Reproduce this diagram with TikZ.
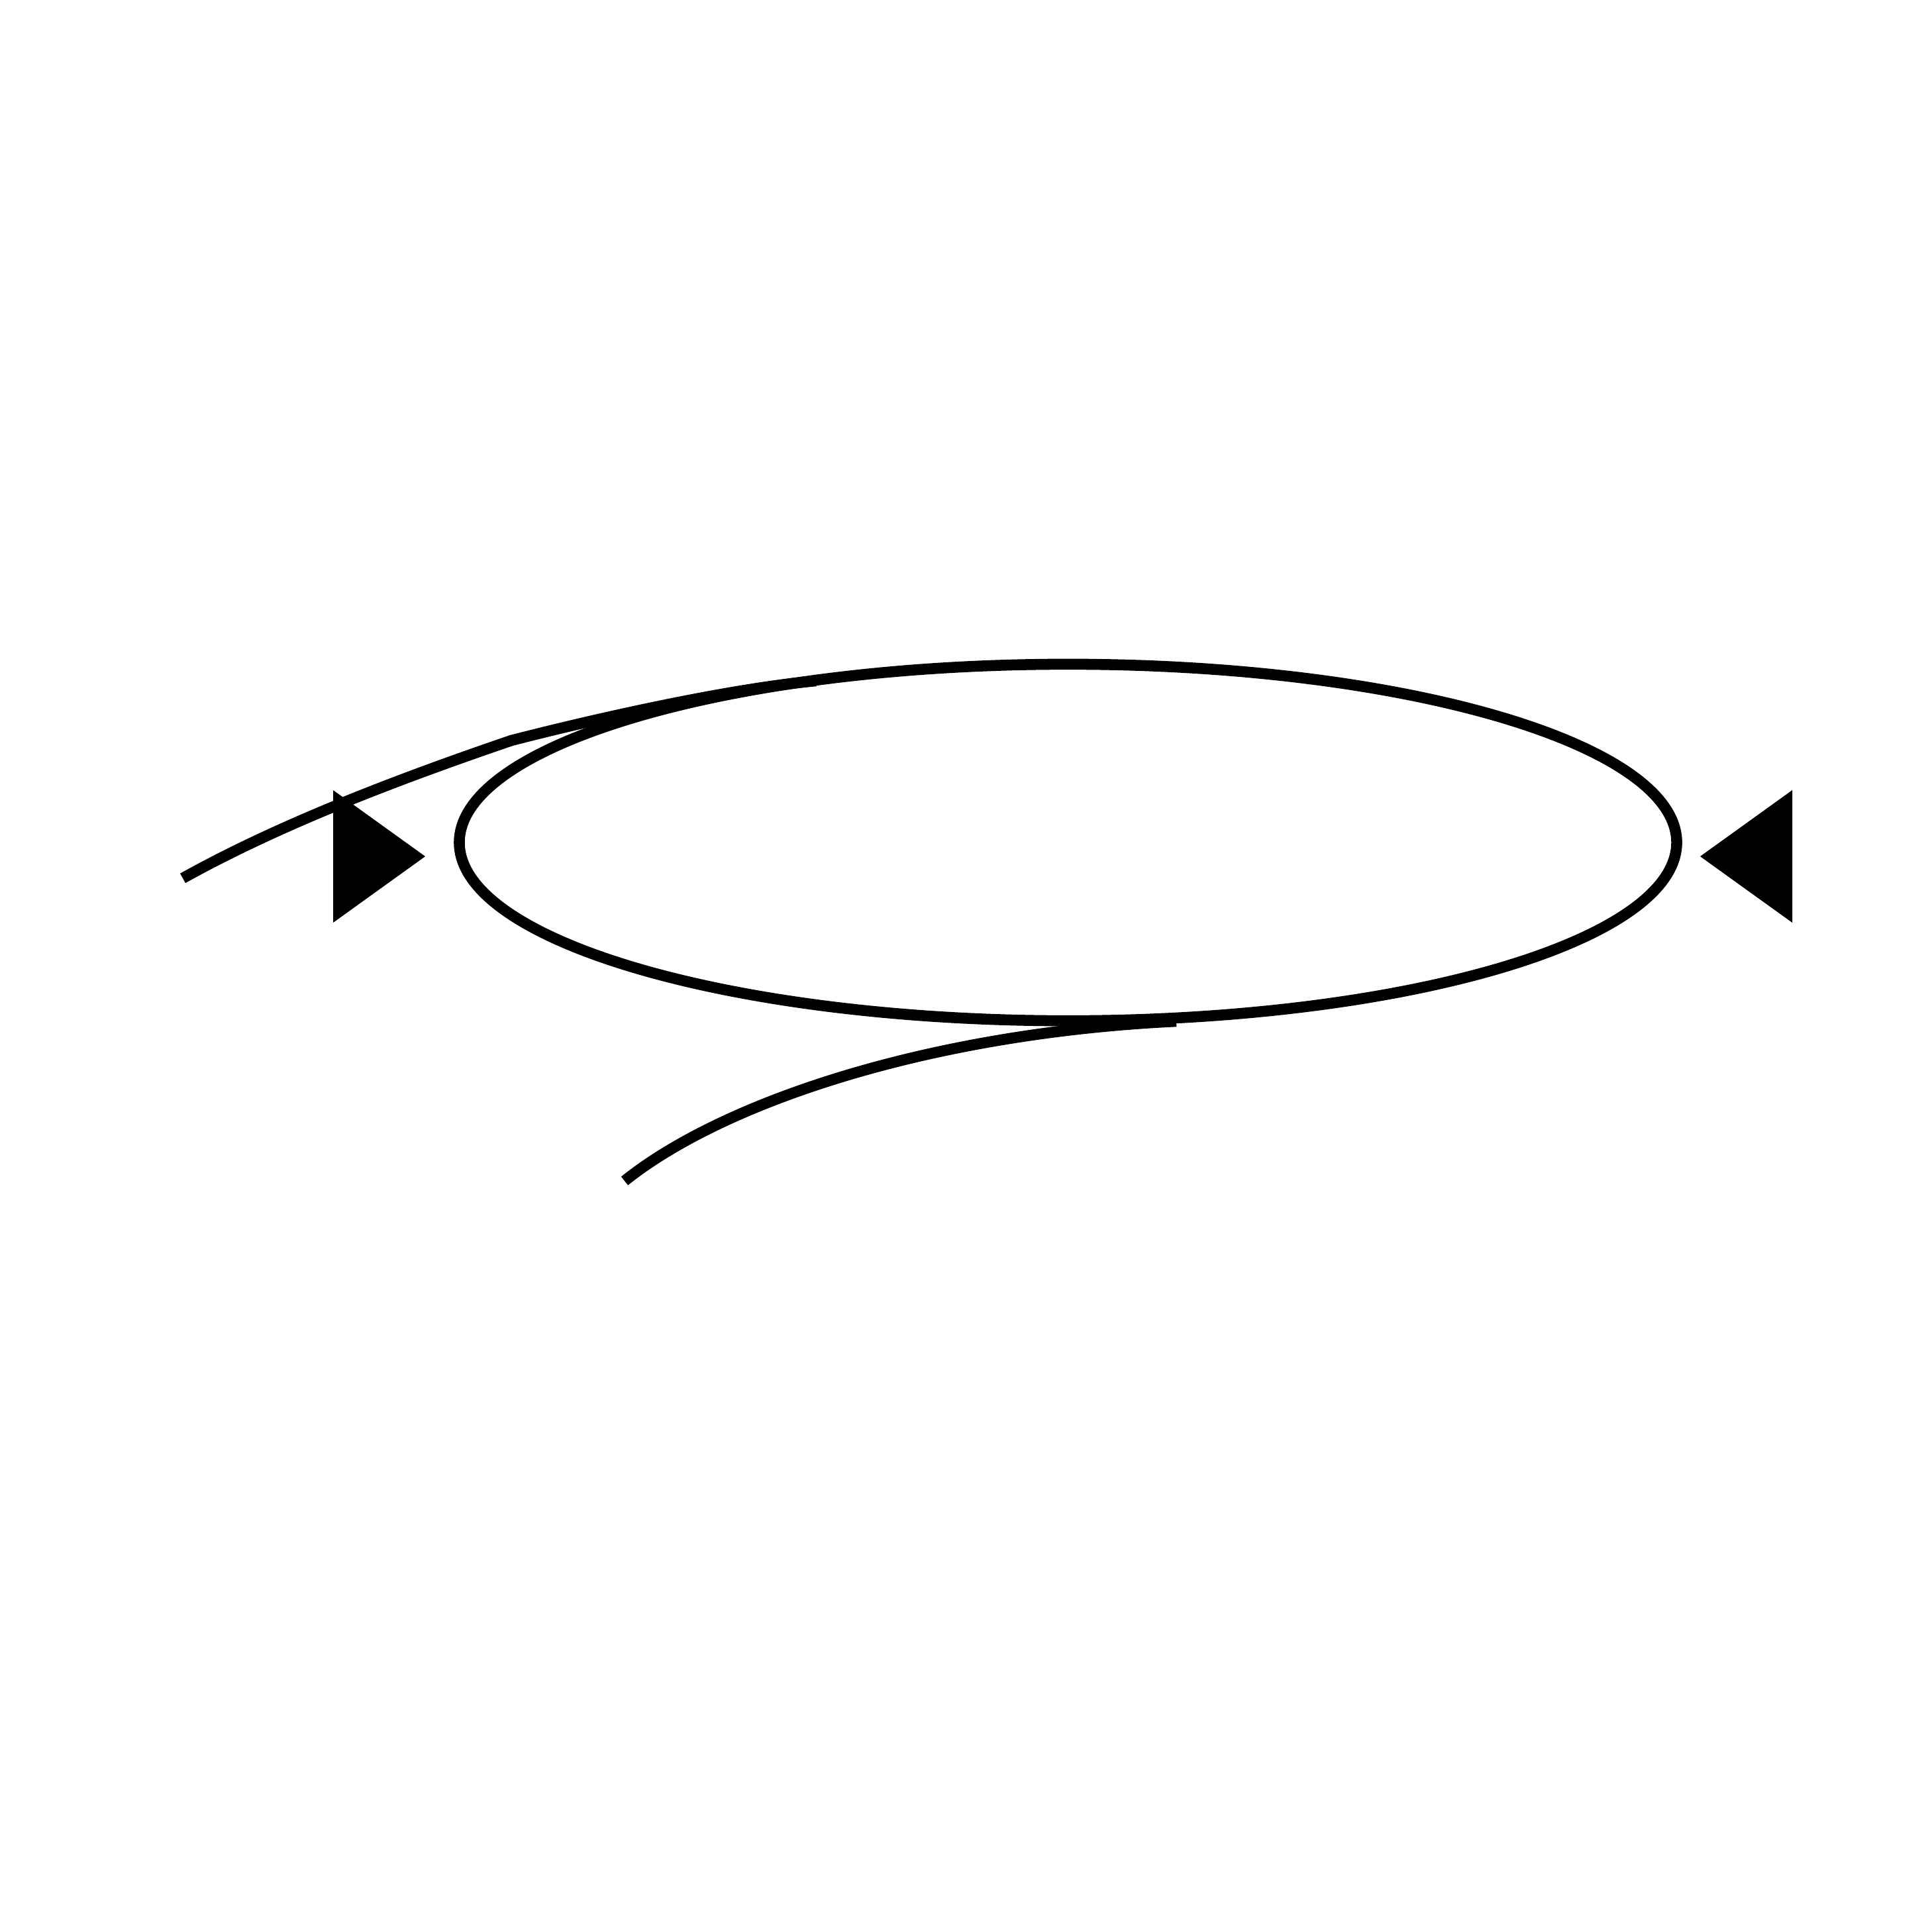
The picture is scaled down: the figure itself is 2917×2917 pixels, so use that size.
\documentclass[tikz,border=0pt]{standalone}
\begin{document}
\begin{tikzpicture}[x=0.01cm, y=-0.01cm,
  stroke/.style={draw=black, line width=4.7pt},
  tri/.style={fill=black}]
\useasboundingbox (0,0) rectangle (2917,2917);
% loop (ellipse)
\coordinate (loopc) at (1612.5,1272);
\draw[stroke] (loopc) ellipse [x radius=9.185cm, y radius=2.69cm];
% arrow heads
\coordinate (la) at (503,1193); \coordinate (lb) at (503,1393); \coordinate (lt) at (642,1293);
\coordinate (ra) at (2706,1193); \coordinate (rb) at (2706,1393); \coordinate (rt) at (2567,1293);
\fill[tri] (la) -- (lb) -- (lt) -- cycle;
\fill[tri] (ra) -- (rb) -- (rt) -- cycle;
% upper curve
\coordinate (us) at (276,1326);
\coordinate (um) at (772,1118);
\coordinate (ue) at (1232,1028);
\draw[stroke] (us) .. controls (430,1240) and (620,1170) .. (um)
                   .. controls (900,1085) and (1100,1040) .. (ue);
% lower curve
\coordinate (ls) at (943,1783);
\coordinate (le) at (1776,1542);
\draw[stroke] (ls) .. controls (1090,1665) and (1400,1560) .. (le);
\end{tikzpicture}
\end{document}
